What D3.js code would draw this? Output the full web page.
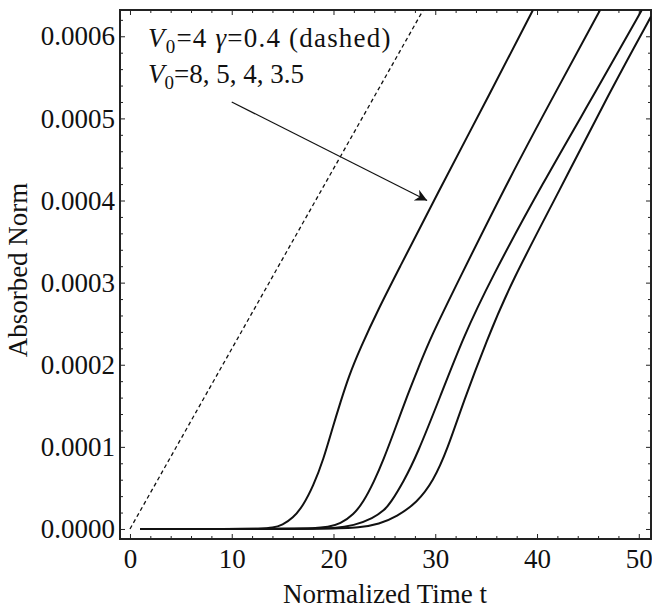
<!DOCTYPE html>
<html lang="en">
  <head>
    <meta charset="UTF-8" />
    <title>Absorbed Norm</title>
    <style>
      body {
        margin: 0;
        background: #fff;
      }
      .axis path,
      .axis line {
        stroke: #222;
      }
      .curve {
        fill: none;
        stroke: #111;
        stroke-width: 2px;
      }
    </style>
  </head>
  <body>
    <div id="chart"></div>
    <script src="https://cdn.jsdelivr.net/npm/d3@7"></script>
    <script>
      // values (norm in units of 1e-4)
      var t8 = [1, 10, 13, 14, 15, 16, 17, 18, 19, 20, 20.65, 21.5, 22.62, 24.5, 26.4, 29.9, 35.57, 39.6];
      var v8 = [0, 0, 0.003, 0.012, 0.05, 0.13, 0.28, 0.52, 0.84, 1.27, 1.53, 1.86, 2.2, 2.7, 3.16, 4.01, 5.35, 6.32];

      var t5 = [1, 10, 16, 18, 19.5, 20.65, 22, 22.9, 24, 24.9, 26, 27.2, 28.4, 29.5, 32.3, 37.36, 41.96, 46.2];
      var v5 = [0, 0, 0.002, 0.008, 0.025, 0.06, 0.18, 0.32, 0.58, 0.84, 1.2, 1.61, 1.98, 2.32, 3.03, 4.29, 5.35, 6.32];

      var t4 = [1, 10, 18, 20, 22, 23.9, 25, 25.57, 26.9, 28.2, 30.48, 32.77, 35.4, 40.5, 45.89, 50.3];
      var v4 = [0, 0, 0.002, 0.008, 0.04, 0.13, 0.23, 0.31, 0.58, 0.9, 1.61, 2.34, 3.03, 4.2, 5.35, 6.32];

      var t35 = [1, 10, 20, 22.5, 24.5, 26.2, 28.2, 29.8, 31.2, 32.77, 35.07, 37.36, 42.2, 47.13, 51.2];
      var v35 = [0, 0, 0.003, 0.015, 0.06, 0.15, 0.32, 0.58, 0.97, 1.55, 2.3, 2.98, 4.12, 5.32, 6.24];

      // dashed case V0=4, gamma=0.4
      var tDash = [0, 29.5];
      var vDash = [0, 6.47];

      var xTicks = [0, 10, 20, 30, 40, 50];
      var yTicks = [0, 0.0001, 0.0002, 0.0003, 0.0004, 0.0005, 0.0006];

      // arrow annotation, data coords
      var arrowFrom = [10.0, 5.2];
      var arrowTo = [29.2, 4.0];

      var serif = "'Liberation Serif', 'Times New Roman', serif";

      var W = 652, H = 608;
      var margin = { top: 10, right: 1, bottom: 69, left: 120 },
        width = W - margin.left - margin.right,
        height = H - margin.top - margin.bottom;

      var svg = d3
        .select("#chart")
        .append("svg")
        .attr("width", W)
        .attr("height", H)
        .append("g")
        .attr("transform", "translate(" + margin.left + "," + margin.top + ")");

      var x = d3.scaleLinear().domain([-0.98, 51.2]).range([0, width]);
      var y = d3.scaleLinear().domain([-0.0000122, 0.000632]).range([height, 0]);

      var minorX = d3.range(0, 52, 2).filter((d) => d % 10 !== 0);
      var minorY = d3.range(0, 0.00063, 0.00002).filter((d, i) => i % 5 !== 0);

      svg
        .append("defs")
        .append("clipPath")
        .attr("id", "clip")
        .append("rect")
        .attr("width", width)
        .attr("height", height);

      // minor ticks on all four sides
      function minor(axis, ticks) {
        return axis.tickValues(ticks).tickSize(-3).tickFormat("");
      }
      svg.append("g").attr("class", "axis").attr("transform", "translate(0," + height + ")")
        .call(minor(d3.axisBottom(x), minorX));
      svg.append("g").attr("class", "axis")
        .call(minor(d3.axisTop(x), minorX));
      svg.append("g").attr("class", "axis")
        .call(minor(d3.axisLeft(y), minorY));
      svg.append("g").attr("class", "axis").attr("transform", "translate(" + width + ",0)")
        .call(minor(d3.axisRight(y), minorY));

      // major ticks, labelled on bottom and left
      svg.append("g").attr("class", "axis").attr("transform", "translate(0," + height + ")")
        .call(d3.axisBottom(x).tickValues(xTicks).tickSize(-5).tickPadding(10).tickFormat(d3.format("d")))
        .attr("font-family", serif)
        .attr("font-size", 27);
      svg.append("g").attr("class", "axis")
        .call(d3.axisTop(x).tickValues(xTicks).tickSize(-5).tickFormat(""));
      svg.append("g").attr("class", "axis")
        .call(d3.axisLeft(y).tickValues(yTicks).tickSize(-5).tickPadding(5).tickFormat(d3.format(".4f")))
        .attr("font-family", serif)
        .attr("font-size", 27);
      svg.append("g").attr("class", "axis").attr("transform", "translate(" + width + ",0)")
        .call(d3.axisRight(y).tickValues(yTicks).tickSize(-5).tickFormat(""));

      svg.selectAll(".axis .domain").remove();
      svg.selectAll(".axis text").attr("fill", "#111");

      // frame
      svg
        .append("rect")
        .attr("width", width)
        .attr("height", height)
        .attr("fill", "none")
        .attr("stroke", "#222")
        .attr("stroke-width", 2);

      var line = d3
        .line()
        .curve(d3.curveBasis)
        .x((d) => x(d[0]))
        .y((d) => y(d[1] * 1e-4));

      var zip = (ts, vs) => ts.map((t, i) => [t, vs[i]]);

      var plot = svg.append("g").attr("clip-path", "url(#clip)");

      [zip(t8, v8), zip(t5, v5), zip(t4, v4), zip(t35, v35)].forEach((pts) => {
        plot.append("path").attr("class", "curve").attr("d", line(pts));
      });

      plot
        .append("path")
        .attr("d", line(zip(tDash, vDash)))
        .attr("fill", "none")
        .attr("stroke", "#111")
        .attr("stroke-width", 1.3)
        .style("stroke-dasharray", "4 3");

      // arrow
      svg
        .append("defs")
        .append("marker")
        .attr("id", "head")
        .attr("viewBox", "0 0 10 10")
        .attr("refX", 10)
        .attr("refY", 5)
        .attr("markerWidth", 22)
        .attr("markerHeight", 12)
        .attr("markerUnits", "userSpaceOnUse")
        .attr("orient", "auto")
        .append("path")
        .attr("d", "M0,0 L10,5 L0,10 L3,5 Z")
        .attr("fill", "#111");

      svg
        .append("line")
        .attr("x1", x(arrowFrom[0]))
        .attr("y1", y(arrowFrom[1] * 1e-4))
        .attr("x2", x(arrowTo[0]))
        .attr("y2", y(arrowTo[1] * 1e-4))
        .attr("stroke", "#111")
        .attr("stroke-width", 1.2)
        .attr("marker-end", "url(#head)");

      // annotation text
      function note(yPos) {
        return svg
          .append("text")
          .attr("x", 28)
          .attr("y", yPos)
          .attr("font-family", serif)
          .attr("font-size", 27)
          .attr("fill", "#111");
      }
      var n1 = note(37).style("letter-spacing", "1.2px");
      n1.append("tspan").style("font-style", "italic").text("V");
      n1.append("tspan").attr("dy", 6).attr("font-size", 19).text("0");
      n1.append("tspan").attr("dy", -6).text("=4 ");
      n1.append("tspan").style("font-style", "italic").text("γ");
      n1.append("tspan").text("=0.4 (dashed)");

      var n2 = note(73);
      n2.append("tspan").style("font-style", "italic").text("V");
      n2.append("tspan").attr("dy", 6).attr("font-size", 19).text("0");
      n2.append("tspan").attr("dy", -6).text("=8, 5, 4, 3.5");

      // axis titles
      svg
        .append("text")
        .attr("x", 385 - margin.left)
        .attr("y", height + 64)
        .attr("text-anchor", "middle")
        .attr("font-family", serif)
        .attr("font-size", 27)
        .attr("fill", "#111")
        .text("Normalized Time t");

      svg
        .append("text")
        .attr("transform", "rotate(-90)")
        .attr("x", -(270 - margin.top))
        .attr("y", -93)
        .attr("text-anchor", "middle")
        .attr("font-family", serif)
        .attr("font-size", 27)
        .attr("fill", "#111")
        .text("Absorbed Norm");
    </script>
  </body>
</html>
